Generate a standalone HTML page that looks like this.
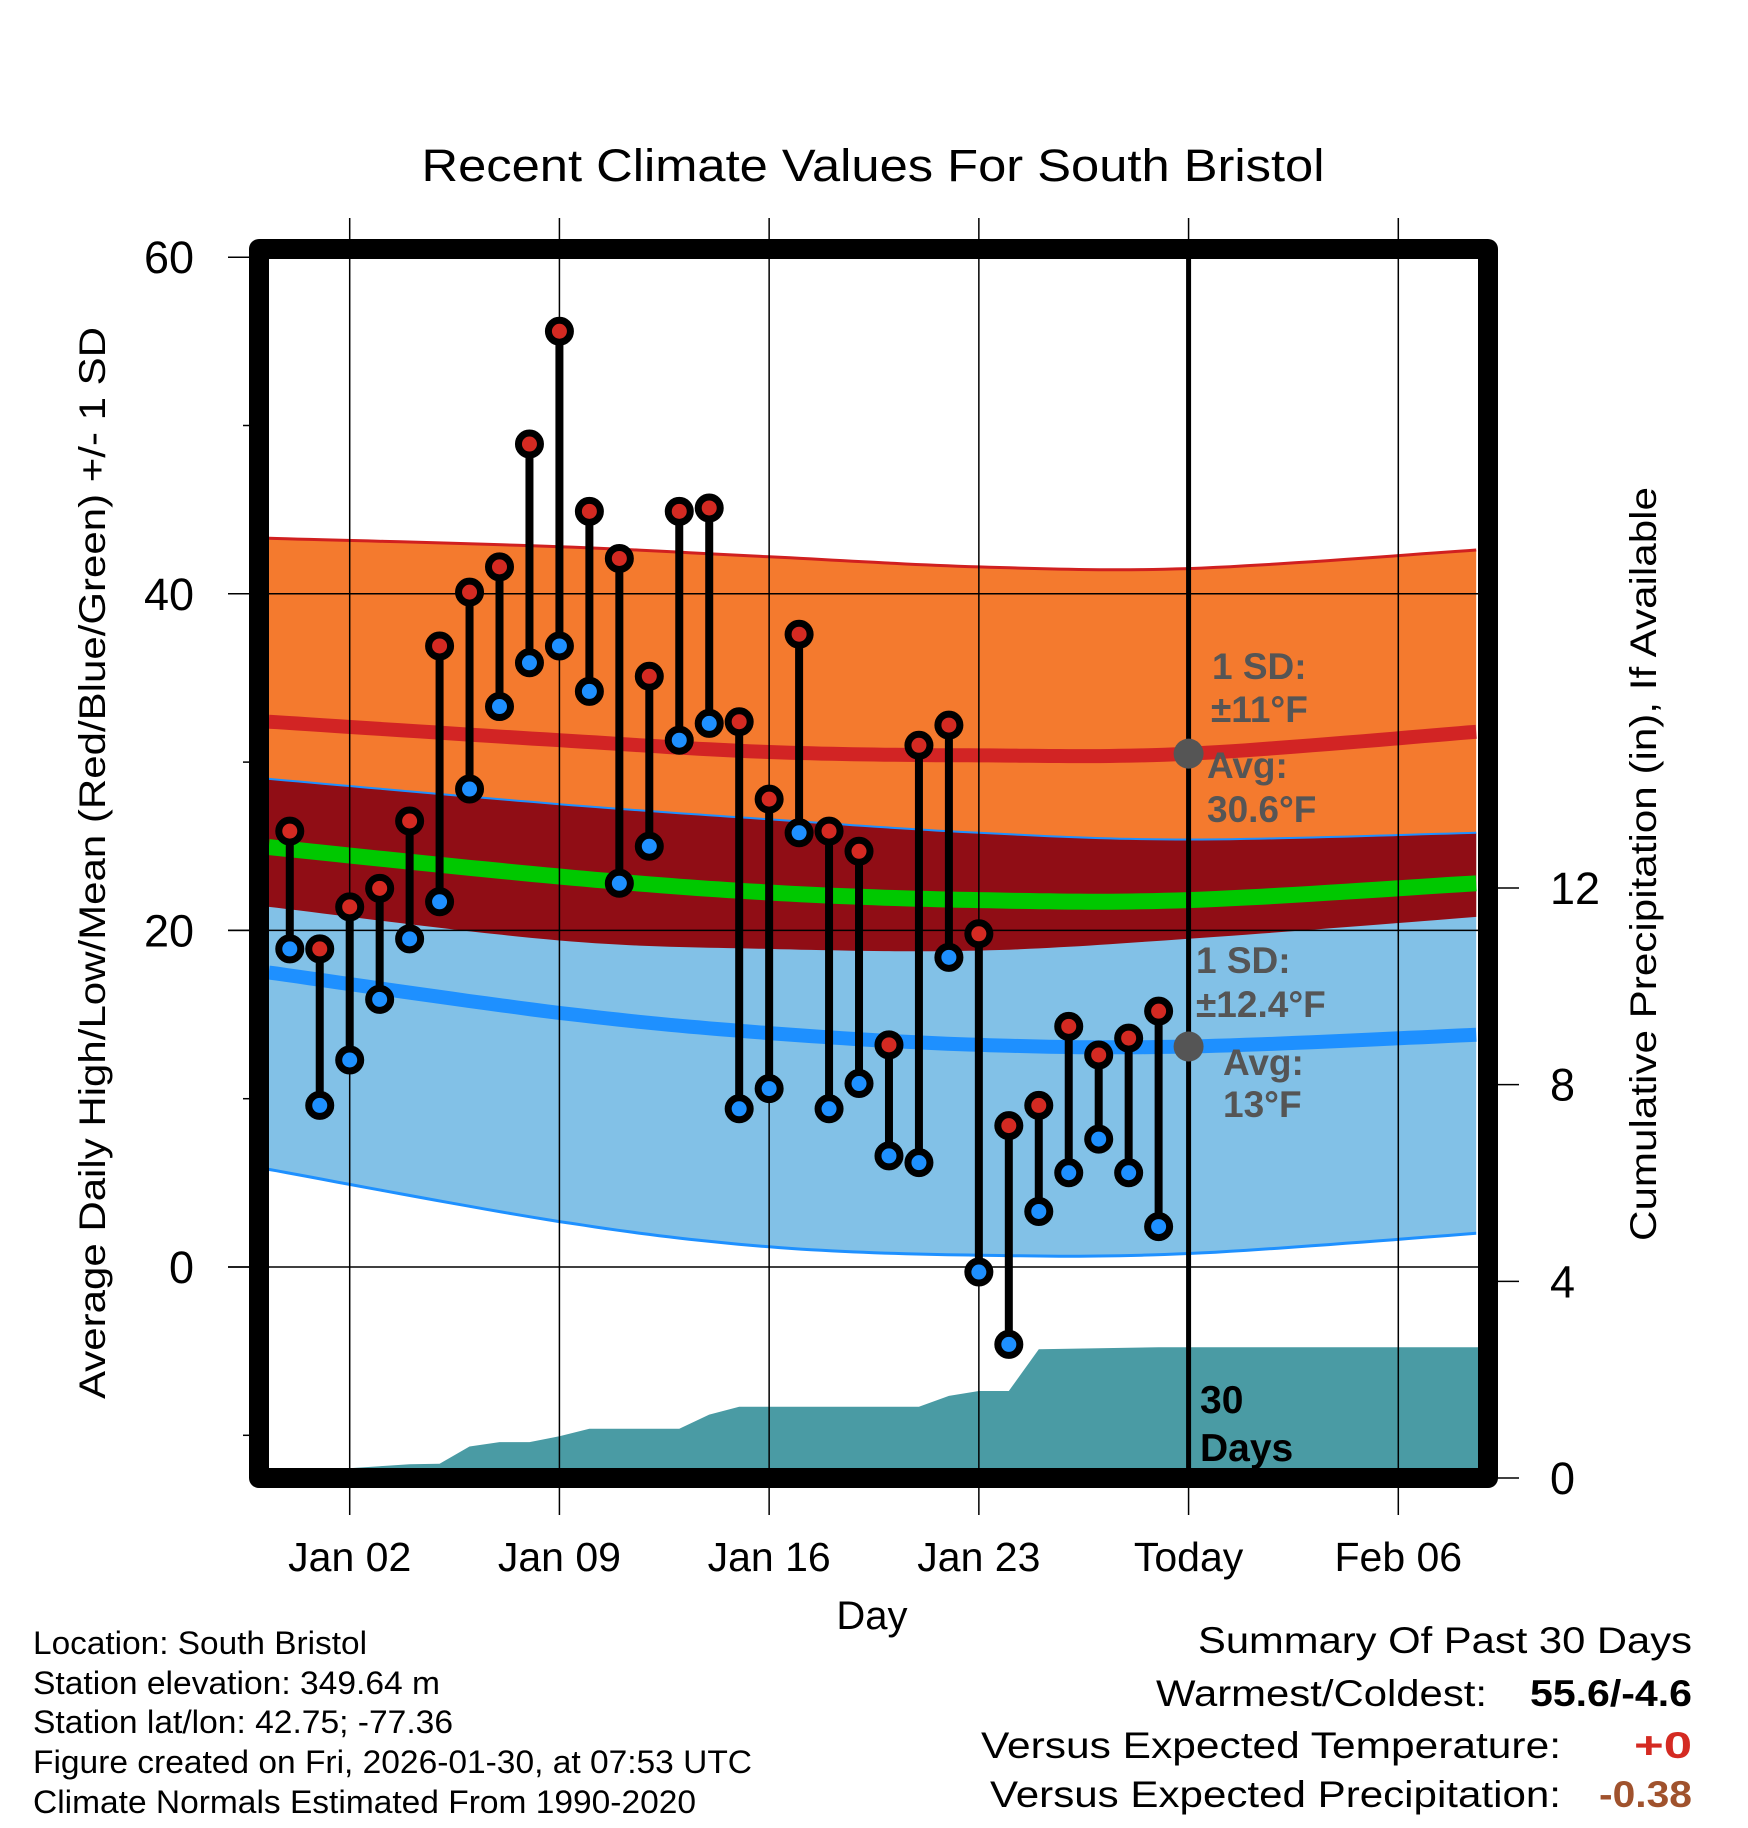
<!DOCTYPE html>
<html><head><meta charset="utf-8"><title>Recent Climate Values For South Bristol</title>
<style>
html,body{margin:0;padding:0;background:#fff;}
svg{display:block;font-family:"Liberation Sans",sans-serif;}
</style></head>
<body>
<svg id="chart" xmlns="http://www.w3.org/2000/svg" width="1748" height="1828" viewBox="0 0 1748 1828">
<defs><clipPath id="plotclip"><rect x="269" y="259" width="1209" height="1209"/></clipPath></defs>
<rect x="0" y="0" width="1748" height="1828" fill="#fff"/>
<text x="873" y="181" font-size="45" text-anchor="middle" textLength="903" lengthAdjust="spacingAndGlyphs">Recent Climate Values For South Bristol</text>
<g id="bands" clip-path="url(#plotclip)"></g>
<g id="precip" clip-path="url(#plotclip)"></g>
<g id="grid"></g>
<g id="series"></g>
<g id="annot"></g>
<rect x="259" y="249" width="1229" height="1229" fill="none" stroke="#000" stroke-width="20" stroke-linejoin="round"/>
<g id="axes"></g>
<text transform="translate(105,863) rotate(-90)" font-size="37" text-anchor="middle" textLength="1072" lengthAdjust="spacingAndGlyphs">Average Daily High/Low/Mean (Red/Blue/Green) +/- 1 SD</text>
<text transform="translate(1656,864) rotate(-90)" font-size="37" text-anchor="middle" textLength="754" lengthAdjust="spacingAndGlyphs">Cumulative Precipitation (in), If Available</text>
<text x="872" y="1629" font-size="40" text-anchor="middle">Day</text>
<g font-size="32">
<text x="33" y="1654" textLength="334" lengthAdjust="spacingAndGlyphs">Location: South Bristol</text>
<text x="33" y="1694" textLength="407" lengthAdjust="spacingAndGlyphs">Station elevation: 349.64 m</text>
<text x="33" y="1733" textLength="420" lengthAdjust="spacingAndGlyphs">Station lat/lon: 42.75; -77.36</text>
<text x="33" y="1773" textLength="719" lengthAdjust="spacingAndGlyphs">Figure created on Fri, 2026-01-30, at 07:53 UTC</text>
<text x="33" y="1813" textLength="663" lengthAdjust="spacingAndGlyphs">Climate Normals Estimated From 1990-2020</text>
</g>
<g font-size="37">
<text x="1198" y="1653" textLength="494" lengthAdjust="spacingAndGlyphs">Summary Of Past 30 Days</text>
<text x="1156" y="1706" textLength="331" lengthAdjust="spacingAndGlyphs">Warmest/Coldest:</text>
<text x="1530" y="1706" font-weight="bold" textLength="162" lengthAdjust="spacingAndGlyphs">55.6/-4.6</text>
<text x="981" y="1758" textLength="580" lengthAdjust="spacingAndGlyphs">Versus Expected Temperature:</text>
<text x="1634" y="1758" font-weight="bold" fill="#d42a22" textLength="58" lengthAdjust="spacingAndGlyphs">+0</text>
<text x="990" y="1807" textLength="571" lengthAdjust="spacingAndGlyphs">Versus Expected Precipitation:</text>
<text x="1599" y="1807" font-weight="bold" fill="#a0522d" textLength="93" lengthAdjust="spacingAndGlyphs">-0.38</text>
</g>
</svg>
<script>
// ---- data ----
const dayIndex = [0,1,2,3,4,5,6,7,8,9,10,11,12,13,14,15,16,17,18,19,20,21,22,23,24,25,26,27,28,29];
const highs = [25.9,18.9,21.4,22.5,26.5,36.9,40.1,41.6,48.9,55.6,44.9,42.1,35.1,44.9,45.1,32.4,27.8,37.6,25.9,24.7,13.2,31.0,32.2,19.8,8.4,9.6,14.3,12.6,13.6,15.2];
const lows = [18.9,9.6,12.3,15.9,19.5,21.7,28.4,33.3,35.9,36.9,34.2,22.8,25.0,31.3,32.3,9.4,10.6,25.8,9.4,10.9,6.6,6.2,18.4,-0.3,-4.6,3.3,5.6,7.6,5.6,2.4];
const precipCum = [0,0.1,0.2,0.24,0.28,0.29,0.64,0.73,0.73,0.85,1.0,1.0,1.0,1.0,1.29,1.45,1.45,1.45,1.45,1.45,1.45,1.45,1.67,1.77,1.77,2.62,2.63,2.64,2.65,2.66];
const normDays = [-0.7,9,16,23,30,39.6];
const highUpper = [43.3,42.8,42.2,41.6,41.5,42.6];
const highAvg = [32.4,31.3,30.6,30.4,30.5,31.8];
const highLower = [21.4,19.4,18.9,18.8,19.5,20.8];
const lowUpper = [29.0,27.5,26.6,25.8,25.4,25.8];
const lowAvg = [17.5,15.1,13.9,13.2,13.1,13.8];
const lowLower = [5.8,2.7,1.2,0.7,0.8,2.0];
const xTickDays = [2,9,16,23,30,37];
const xTickLabels = ["Jan 02","Jan 09","Jan 16","Jan 23","Today","Feb 06"];
const yTicks = [60,40,20,0];
const yMinorTicks = [50,30,10,-10];
const y2Ticks = [0,4,8,12];
const todayDay = 30;

// ---- scales ----
const NS = "http://www.w3.org/2000/svg";
function xS(d){ return 349.7 + (d-2)*29.96; }
function yS(t){ return 1267 - t*16.83; }
function pS(p){ return 1478 - p*49.17; }
function mk(tag, attrs, parent){ const e=document.createElementNS(NS,tag); for(const k in attrs) e.setAttribute(k,attrs[k]); parent.appendChild(e); return e; }

function smoothPts(days, vals){
  const pts = days.map((d,i)=>[xS(d), yS(vals[i])]);
  let out=[];
  for(let i=0;i<pts.length-1;i++){
    const p0=pts[Math.max(0,i-1)], p1=pts[i], p2=pts[i+1], p3=pts[Math.min(pts.length-1,i+2)];
    for(let s=0;s<20;s++){
      const t=s/20, t2=t*t, t3=t2*t;
      const x=0.5*((2*p1[0])+(-p0[0]+p2[0])*t+(2*p0[0]-5*p1[0]+4*p2[0]-p3[0])*t2+(-p0[0]+3*p1[0]-3*p2[0]+p3[0])*t3);
      const y=0.5*((2*p1[1])+(-p0[1]+p2[1])*t+(2*p0[1]-5*p1[1]+4*p2[1]-p3[1])*t2+(-p0[1]+3*p1[1]-3*p2[1]+p3[1])*t3);
      out.push([x,y]);
    }
  }
  out.push(pts[pts.length-1]);
  return out;
}
function lineD(p){ return "M"+p.map(q=>q[0].toFixed(1)+","+q[1].toFixed(1)).join(" L"); }
function bandD(a,b){ const r=b.slice().reverse(); return lineD(a)+" L"+r.map(q=>q[0].toFixed(1)+","+q[1].toFixed(1)).join(" L")+" Z"; }

// ---- bands ----
const bands = document.getElementById("bands");
const hU=smoothPts(normDays,highUpper), hA=smoothPts(normDays,highAvg), hL=smoothPts(normDays,highLower);
const lU=smoothPts(normDays,lowUpper), lA=smoothPts(normDays,lowAvg), lL=smoothPts(normDays,lowLower);
const meanVals = highAvg.map((h,i)=>(h+lowAvg[i])/2);
const mA=smoothPts(normDays,meanVals);
let e;
e=mk("path",{d:bandD(hU,hL),fill:"#f47a2e"},bands);


e=mk("path",{d:bandD(lU,lL),fill:"#82c1e7"},bands);


e=mk("path",{d:bandD(lU,hL),fill:"#900d15"},bands);


e=mk("path",{d:lineD(hU),fill:"none",stroke:"#d02020","stroke-width":3},bands);


e=mk("path",{d:lineD(lU),fill:"none",stroke:"#1e90ff","stroke-width":2},bands);


e=mk("path",{d:lineD(lL),fill:"none",stroke:"#1e90ff","stroke-width":3},bands);


e=mk("path",{d:lineD(hA),fill:"none",stroke:"#d22424","stroke-width":14},bands);


e=mk("path",{d:lineD(lA),fill:"none",stroke:"#1e90ff","stroke-width":14},bands);


e=mk("path",{d:lineD(mA),fill:"none",stroke:"#00c800","stroke-width":16},bands);



// ---- precipitation ----
const pg = document.getElementById("precip");
let pd = "M"+xS(dayIndex[0]).toFixed(1)+","+pS(0).toFixed(1);
dayIndex.forEach((d,i)=>{ pd += " L"+xS(d).toFixed(1)+","+pS(precipCum[i]).toFixed(1); });
pd += " L1480,"+pS(precipCum[precipCum.length-1]).toFixed(1)+" L1480,1480 L"+xS(dayIndex[0]).toFixed(1)+",1480 Z";
e=mk("path",{d:pd,fill:"#4a9ba4"},pg);



// ---- grid ----
const grid=document.getElementById("grid");
xTickDays.forEach(d=>{
  e=mk("line",{x1:xS(d),x2:xS(d),y1:218,y2:1515,stroke:"#000","stroke-width":1.5},grid);
  
  
});
yTicks.forEach(t=>{
  e=mk("line",{x1:228,x2:1478,y1:yS(t),y2:yS(t),stroke:"#000","stroke-width":1.5},grid);
  
  
});

// ---- series ----
const sg=document.getElementById("series");
dayIndex.forEach((d,i)=>{
  const x=xS(d);
  e=mk("line",{x1:x,x2:x,y1:yS(highs[i]),y2:yS(lows[i]),stroke:"#000","stroke-width":8},sg);
  
  
});
dayIndex.forEach((d,i)=>{
  const x=xS(d);
  e=mk("circle",{cx:x,cy:yS(highs[i]),r:11,fill:"#d42a22",stroke:"#000","stroke-width":7},sg);
  
  
  e=mk("circle",{cx:x,cy:yS(lows[i]),r:11,fill:"#1e90ff",stroke:"#000","stroke-width":7},sg);
  
  
});

// ---- today line & annotations ----
const an=document.getElementById("annot");
e=mk("line",{x1:xS(todayDay),x2:xS(todayDay),y1:259,y2:1468,stroke:"#000","stroke-width":5},an);


const hiToday=highAvg[4], loToday=lowAvg[4];
e=mk("circle",{cx:xS(todayDay),cy:yS(hiToday),r:15,fill:"#555"},an);


e=mk("circle",{cx:xS(todayDay),cy:yS(loToday),r:15,fill:"#555"},an);


const labels=[
 ["1 SD:",1212,679,"high-sd-label"],["\u00b111\u00b0F",1211,722,"high-sd-value"],
 ["Avg:",1207,778,"high-avg-label"],["30.6\u00b0F",1207,822,"high-avg-value"],
 ["1 SD:",1196,973,"low-sd-label"],["\u00b112.4\u00b0F",1196,1017,"low-sd-value"],
 ["Avg:",1223,1075,"low-avg-label"],["13\u00b0F",1223,1117,"low-avg-value"]];
labels.forEach(l=>{
  e=mk("text",{x:l[1],y:l[2],"font-size":37,"font-weight":"bold",fill:"#555"},an);
  e.textContent=l[0];
  
  
});
e=mk("text",{x:1200,y:1413,"font-size":39,"font-weight":"bold",fill:"#000"},an);
e.textContent="30";


e=mk("text",{x:1200,y:1461,"font-size":39,"font-weight":"bold",fill:"#000"},an);
e.textContent="Days";



// ---- axes ----
const ax=document.getElementById("axes");
yTicks.forEach(t=>{
  e=mk("line",{x1:228,x2:259,y1:yS(t),y2:yS(t),stroke:"#000","stroke-width":1.5},ax);
  
  
  e=mk("text",{x:194,y:yS(t)+16,"font-size":45,"text-anchor":"end"},ax);
  e.textContent=String(t);
  
  
});
yMinorTicks.forEach(t=>{
  e=mk("line",{x1:243,x2:259,y1:yS(t),y2:yS(t),stroke:"#000","stroke-width":1.5},ax);
  
  
});
y2Ticks.forEach(p=>{
  e=mk("line",{x1:1488,x2:1519,y1:pS(p),y2:pS(p),stroke:"#000","stroke-width":1.5},ax);
  
  
  e=mk("text",{x:1550,y:pS(p)+16,"font-size":45},ax);
  e.textContent=String(p);
  
  
});
xTickDays.forEach((d,i)=>{
  e=mk("text",{x:xS(d),y:1571,"font-size":41,"text-anchor":"middle"},ax);
  e.textContent=xTickLabels[i];
  
  
});
</script>
</body></html>
